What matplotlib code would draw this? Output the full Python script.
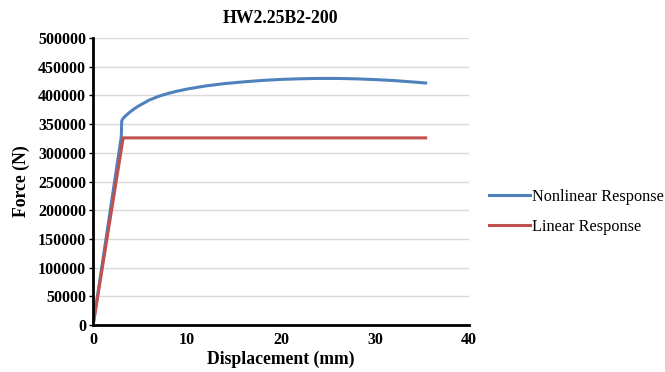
import matplotlib.pyplot as plt

plt.rcParams['font.family'] = ['Liberation Serif', 'DejaVu Serif']

# nonlinear response (displacement mm, force N)
nl_disp = [0, 3.0, 3.05, 3.2, 3.5, 4.0, 4.5, 5.0, 6.0, 7.0, 8.0, 9.0, 10, 12, 14, 16, 18,
           20, 22, 24, 26, 28, 30, 32, 34, 35.4]
nl_force = [0, 328000, 356000, 360000, 365000, 372000, 378000, 383000, 392000, 398500,
            403500, 407500, 411000, 416500, 420500, 423500, 426000, 427800, 428900,
            429500, 429500, 428800, 427500, 425800, 423400, 421600]

# linear response
lin_disp = [0, 3.2, 35.4]
lin_force = [0, 326000, 326000]

fig = plt.figure(figsize=(6.65, 3.72), dpi=100)
ax = fig.add_axes([0.14, 0.126, 0.565, 0.772])

ax.plot(nl_disp, nl_force, color='#4F81BD', lw=2.2, label='Nonlinear Response')
ax.plot(lin_disp, lin_force, color='#C0504D', lw=2.2, label='Linear Response')

ax.set_xlim(0, 40)
ax.set_ylim(0, 500000)
ax.set_xticks([0, 10, 20, 30, 40])
ax.set_yticks(range(0, 500001, 50000))
ax.grid(axis='y', color='#D9D9D9', lw=1)
ax.set_axisbelow(True)
for s in ['top', 'right']:
    ax.spines[s].set_visible(False)
for s in ['left', 'bottom']:
    ax.spines[s].set_linewidth(2)
ax.tick_params(axis='y', length=3, width=1, labelsize=11.5, pad=2)
ax.tick_params(axis='x', length=0, labelsize=11.5, pad=5)
for t in ax.get_xticklabels() + ax.get_yticklabels():
    t.set_fontweight('bold')

ax.set_title('HW2.25B2-200', fontsize=12.8, fontweight='bold', pad=11)
ax.set_xlabel('Displacement (mm)', fontsize=12.7, fontweight='bold', labelpad=2)
ax.set_ylabel('Force (N)', fontsize=12.7, fontweight='bold', labelpad=6)

fig.legend(loc='center left', bbox_to_anchor=(0.714, 0.43), frameon=False,
           fontsize=11.7, handlelength=2.5, handletextpad=0.1, labelspacing=0.85)

fig.savefig('out.png', dpi=100)
